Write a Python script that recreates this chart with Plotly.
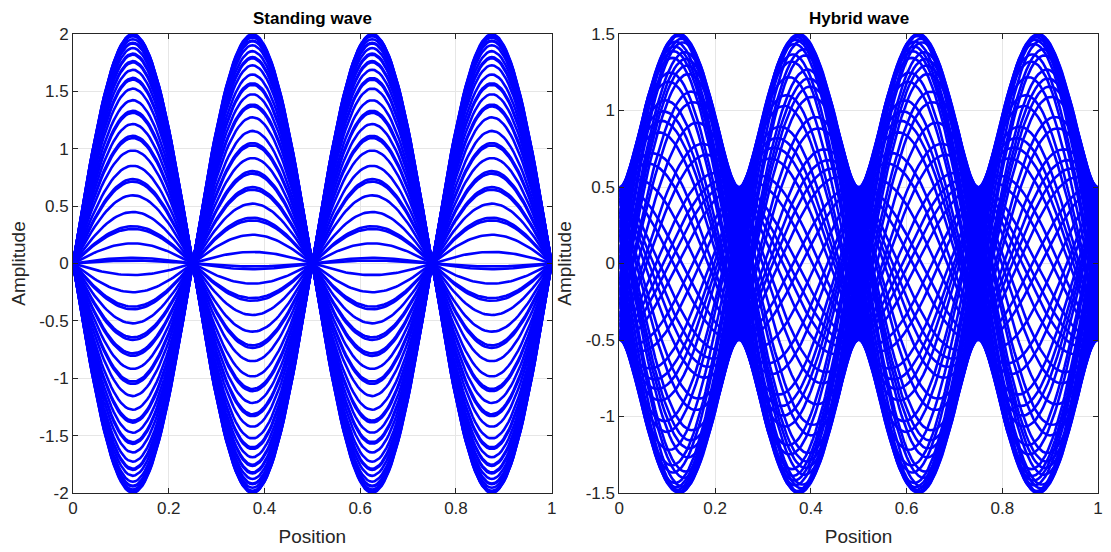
import numpy as np
import plotly.graph_objects as go
from plotly.subplots import make_subplots

# Wave parameters
standing_amplitude = 2.0      # standing wave peak
hybrid_standing_amp = 1.0     # standing part of hybrid (antinode 1.5, node 0.5)
hybrid_travel_amp = 0.5       # travelling part of hybrid
antinodes = 4                 # four lobes between 0 and 1
# snapshot time grid (phase advance per snapshot, number of snapshots)
phase_step = 3.883
n_snapshots = 64

x_ticks = [0, 0.2, 0.4, 0.6, 0.8, 1]
x_tick_labels = ["0", "0.2", "0.4", "0.6", "0.8", "1"]
y_ticks_left = [-2, -1.5, -1, -0.5, 0, 0.5, 1, 1.5, 2]
y_labels_left = ["-2", "-1.5", "-1", "-0.5", "0", "0.5", "1", "1.5", "2"]
y_ticks_right = [-1.5, -1, -0.5, 0, 0.5, 1, 1.5]
y_labels_right = ["-1.5", "-1", "-0.5", "0", "0.5", "1", "1.5"]

x = np.linspace(0, 1, 201)
kx = antinodes * np.pi * x
phases = phase_step * np.arange(n_snapshots)

fig = make_subplots(rows=1, cols=2, horizontal_spacing=0.066,
                    subplot_titles=["<b>Standing wave</b>", "<b>Hybrid wave</b>"])

for th in phases:
    ys = standing_amplitude * np.sin(kx) * np.cos(th)
    fig.add_trace(go.Scatter(x=x, y=ys, mode="lines", line=dict(color="#0000FF", width=2.6),
                             showlegend=False, hoverinfo="skip"), row=1, col=1)
for th in phases:
    yh = hybrid_standing_amp * np.sin(kx) * np.cos(th) + hybrid_travel_amp * np.sin(kx - th)
    fig.add_trace(go.Scatter(x=x, y=yh, mode="lines", line=dict(color="#0000FF", width=2.6),
                             showlegend=False, hoverinfo="skip"), row=1, col=2)

font_fam = "Liberation Sans, Arial"
axis_common = dict(showline=True, linecolor="#262626", linewidth=1, mirror="ticks",
                   ticks="inside", ticklen=5, tickcolor="#262626",
                   showgrid=True, gridcolor="#e6e6e6", gridwidth=1, zeroline=False,
                   tickfont=dict(family=font_fam, size=17, color="#262626"))

for c in (1, 2):
    fig.update_xaxes(range=[0, 1], tickvals=x_ticks, ticktext=x_tick_labels,
                     title=dict(text="Position", font=dict(family=font_fam, size=19, color="#262626"), standoff=12),
                     row=1, col=c, **axis_common)
fig.update_yaxes(range=[-2, 2], tickvals=y_ticks_left, ticktext=y_labels_left,
                 title=dict(text="Amplitude", font=dict(family=font_fam, size=19, color="#262626"), standoff=8),
                 row=1, col=1, **axis_common)
fig.update_yaxes(range=[-1.5, 1.5], tickvals=y_ticks_right, ticktext=y_labels_right,
                 title=dict(text="Amplitude", font=dict(family=font_fam, size=19, color="#262626"), standoff=8),
                 row=1, col=2, **axis_common)

for ann in fig.layout.annotations:
    ann.font = dict(family=font_fam, size=17, color="#000000")
    ann.yshift = 4

fig.update_layout(width=1111, height=552, margin=dict(l=73, r=8, t=34, b=58),
                  plot_bgcolor="white", paper_bgcolor="white")

fig.write_html("out.html")
